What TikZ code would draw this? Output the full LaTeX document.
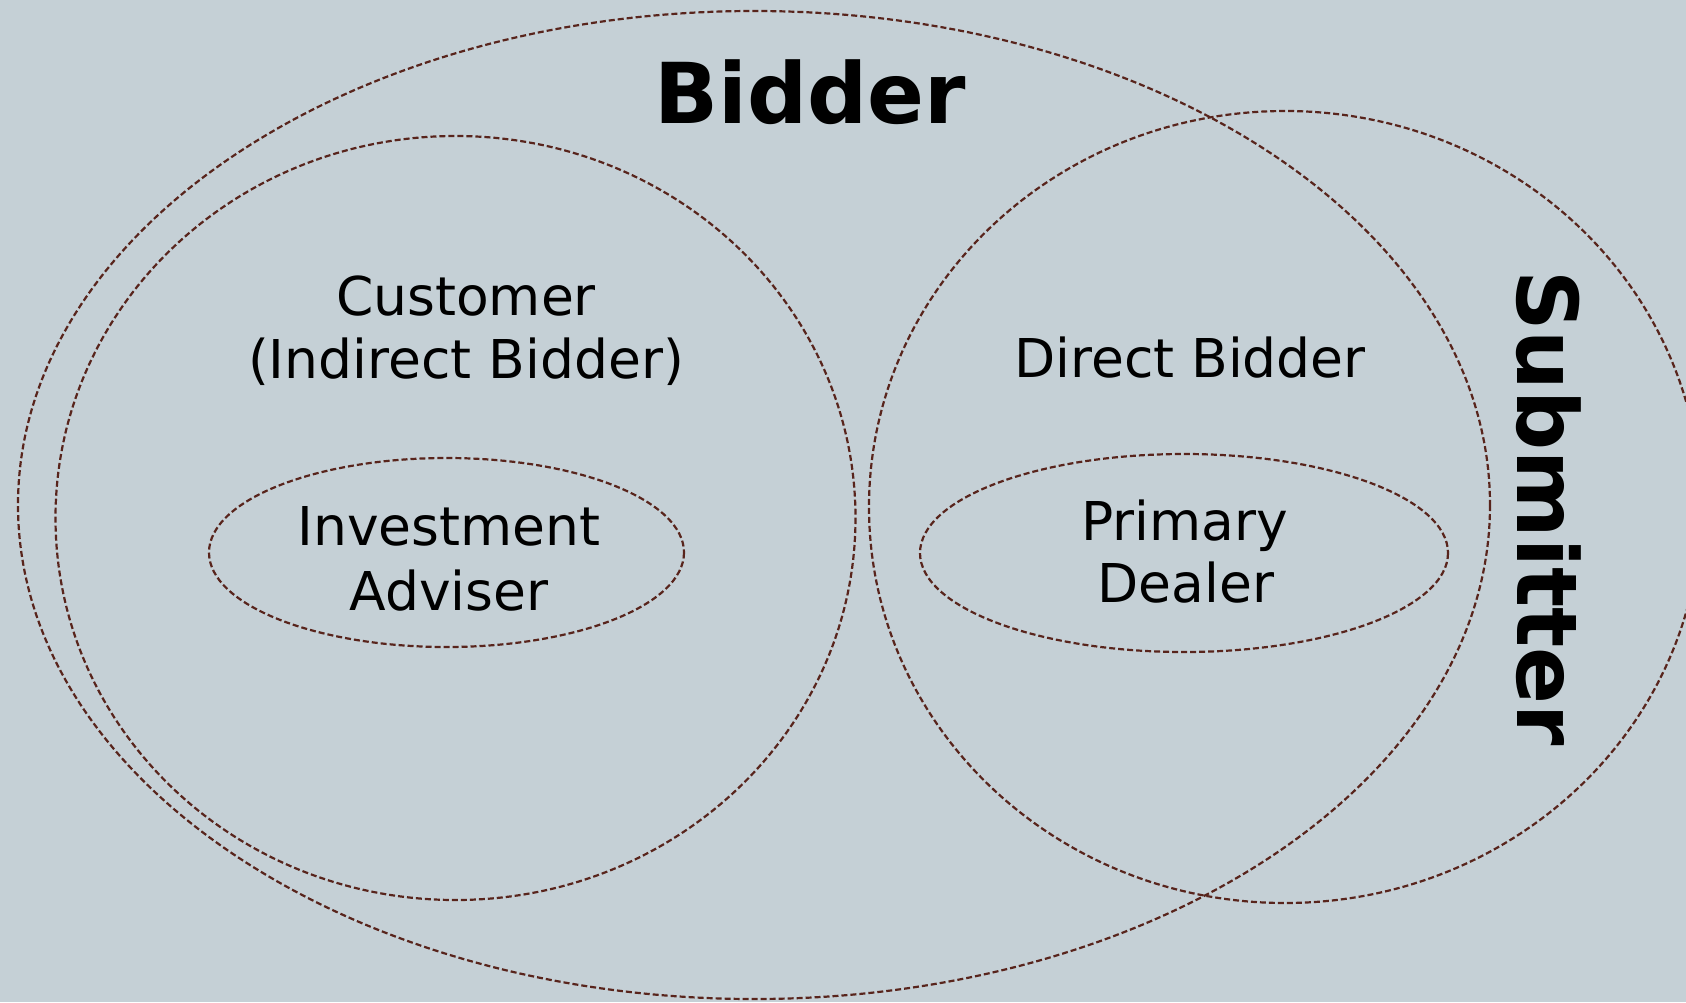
\documentclass[tikz,border=0pt]{standalone}
\usepackage{fontspec}
\setmainfont{DejaVu Sans}
\definecolor{bg}{RGB}{197,208,214}
\definecolor{ln}{RGB}{88,36,28}
\begin{document}
\begin{tikzpicture}[x=1pt,y=-1pt,
  setline/.style={draw=ln, line width=2.2pt, dash pattern=on 6pt off 3pt},
  lbl/.style={font=\fontsize{53.5}{63}\selectfont, text=black, inner sep=0pt, anchor=base},
  big/.style={font=\fontsize{84}{100}\selectfont\bfseries, text=black, inner sep=0pt, anchor=base}]
\path[fill=bg] (0,0) rectangle (1686,1002);
\useasboundingbox (0,0) rectangle (1686,1002);
\clip (0,0) rectangle (1686,1002);
% sets
\draw[setline] (754,505) ellipse [x radius=736, y radius=494];
\draw[setline] (455.5,518) ellipse [x radius=400, y radius=382];
\draw[setline] (1285,507) ellipse [x radius=416, y radius=396];
\draw[setline] (446.5,552.5) ellipse [x radius=237.5, y radius=94.5];
\draw[setline] (1184,553) ellipse [x radius=264, y radius=99];
% labels
\node[big] (bidder) at (810,123) {Bidder};
\node[big, rotate=-90] (submitter) at (1517,508) {Submitter};
\node[lbl] (customer) at (466,315) {Customer};
\node[lbl] (indirect) at (466,378) {(Indirect Bidder)};
\node[lbl] (direct) at (1190,377) {Direct Bidder};
\node[lbl] (invest) at (449,545) {Investment};
\node[lbl] (adviser) at (449,610) {Adviser};
\node[lbl] (primary) at (1185,540) {Primary};
\node[lbl] (dealer) at (1186,602) {Dealer};
\end{tikzpicture}
\end{document}
